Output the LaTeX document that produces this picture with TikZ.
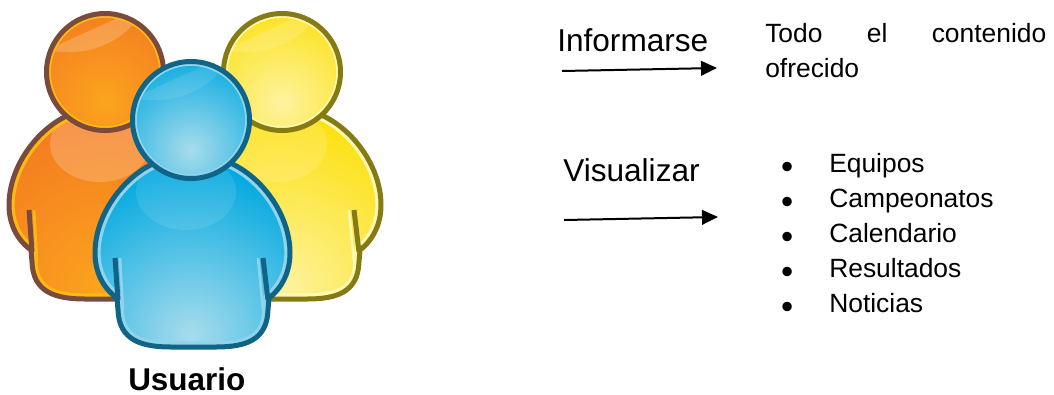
\documentclass[tikz,border=0pt]{standalone}
\usepackage{fontspec}
\setmainfont{Liberation Sans}
\usetikzlibrary{arrows.meta}
\definecolor{naranjaborde}{HTML}{7A4B3C}
\definecolor{naranjaluz}{HTML}{FDB913}
\definecolor{naranjabase}{HTML}{F47B20}
\definecolor{naranjacentro}{HTML}{FBA41E}
\definecolor{amarilloborde}{HTML}{857A14}
\definecolor{amarilloluz}{HTML}{FFF8B0}
\definecolor{amarillobase}{HTML}{FDE010}
\definecolor{amarillocentro}{HTML}{FDF3A0}
\definecolor{azulborde}{HTML}{0F6488}
\definecolor{azulluz}{HTML}{8FD4EA}
\definecolor{azulbase}{HTML}{00A8E0}
\definecolor{azulcentro}{HTML}{A8DCEC}
\tikzset{
  titulo/.style = {anchor=base west, inner sep=0pt, font=\fontsize{23.7}{28}\selectfont},
  texto/.style = {anchor=base west, inner sep=0pt, font=\fontsize{19.8}{26.25}\selectfont},
  flecha/.style = {line width=1.5pt, -{Triangle[length=12pt,width=11pt]}}
}
\def\cuerpo{(-34,42) .. controls (-68,56) and (-96,95) .. (-96,133) .. controls (-96,152) and (-88,168) .. (-74,178) -- (-73,190) .. controls (-72,220) and (-50,227) .. (-20,227) -- (25,227) .. controls (55,227) and (76,220) .. (77,190) -- (78,178) .. controls (91,168) and (99,152) .. (99,133) .. controls (99,95) and (71,56) .. (37,42) -- cycle}
% #1 = position of the head, #2 = colour family, #3 = strength of the highlights
\newcommand{\persona}[3]{
  \begin{scope}[shift={#1}]
    \begin{scope}
      \clip \cuerpo;
      \fill[#2base] (-110,30) rectangle (110,240);
      \shade[inner color=#2centro, outer color=#2base] (0,215) circle (170);
      \fill[white, opacity=#3] (-5,72) ellipse (50 and 38);
      \draw[#2luz, line width=8.5pt] \cuerpo;
    \end{scope}
    \draw[#2borde, line width=3.75pt, line join=round] \cuerpo;
    \draw[#2luz, line width=2pt] (-71,138) -- (-68,190);
    \draw[#2luz, line width=2pt] (67,138) -- (72,190);
    \draw[#2borde, line width=3.75pt] (-76,138) -- (-73,180);
    \draw[#2borde, line width=3.75pt] (72,138) -- (77,180);
    \begin{scope}
      \clip (0,0) circle (58.5);
      \fill[#2base] (-60,-60) rectangle (60,60);
      \shade[inner color=#2centro, outer color=#2base] (0,30) circle (100);
      \fill[white, opacity=#3] (-62,-62) rectangle (30,-62) -- (30,-50) .. controls (10,-25) and (-25,-15) .. (-58,-22) -- cycle;
      \draw[#2luz, line width=6.5pt] (0,0) circle (58.5);
    \end{scope}
    \draw[#2borde, line width=3.75pt] (0,0) circle (58.5);
  \end{scope}
}
\begin{document}
\begin{tikzpicture}[x=0.75pt, y=-0.75pt]
  \useasboundingbox (0,0) rectangle (1054,394);
  \persona{(105,72)}{naranja}{.2}
  \persona{(282,72)}{amarillo}{.15}
  \persona{(191,120)}{azul}{.1}
  \node[titulo, font=\fontsize{23.6}{28}\selectfont\bfseries] (usuario) at (128,390) {Usuario};

  \node[titulo] (informarse) at (557,51) {Informarse};
  \coordinate (ini1) at (562,71);
  \coordinate (fin1) at (717,68);
  \draw[flecha] (ini1) -- (fin1);
  \node[texto, text width=281*0.75pt, align=left] (todo) at (765,42) {Todo\hfill el\hfill contenido\\ ofrecido};

  \node[titulo] (visualizar) at (563,181) {Visualizar};
  \coordinate (ini2) at (564,220);
  \coordinate (fin2) at (718,217);
  \draw[flecha] (ini2) -- (fin2);
  \foreach \nombre [count=\i] in {Equipos, Campeonatos, Calendario, Resultados, Noticias}
    \node[texto] (item\i) at (829,137+35*\i) {\makebox[0pt][r]{\raisebox{-5pt}{\fontsize{26}{26}\selectfont\textbullet}\hspace{27pt}}\nombre};
\end{tikzpicture}
\end{document}
